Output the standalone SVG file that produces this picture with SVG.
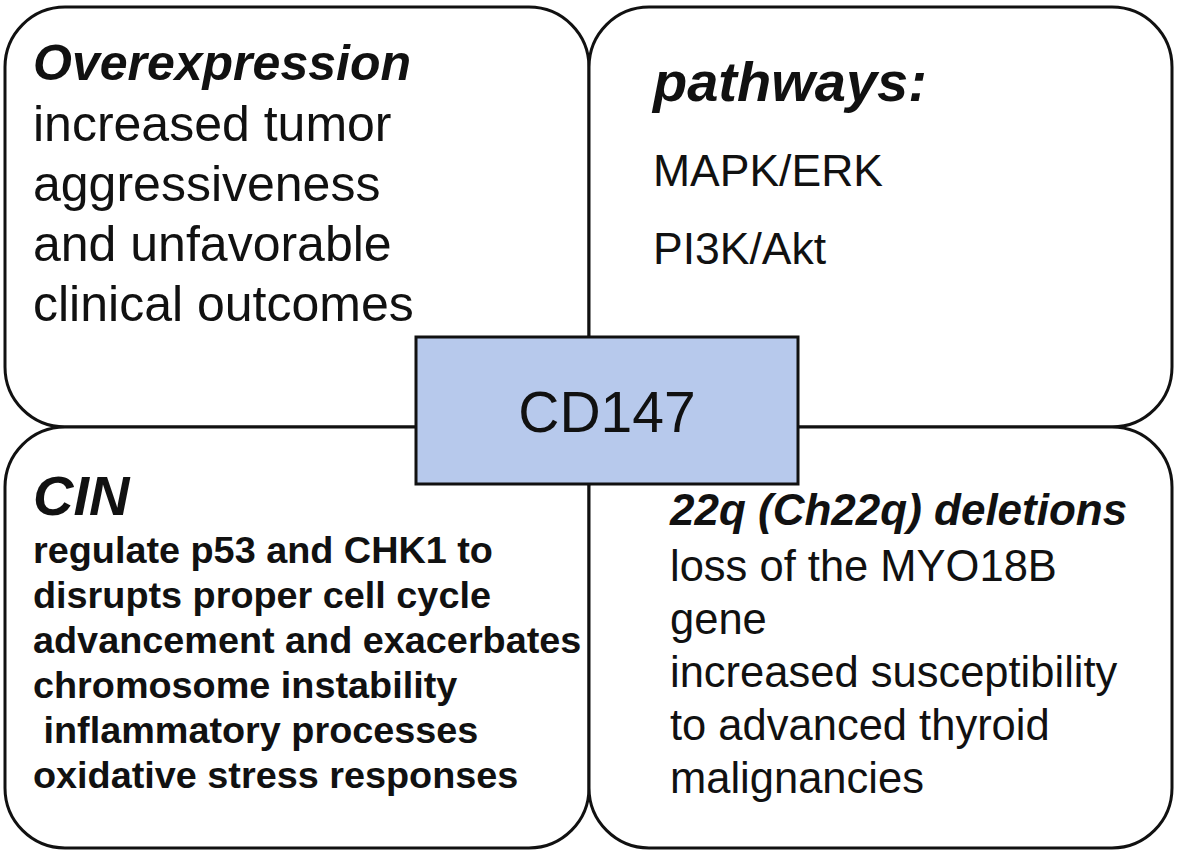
<svg xmlns="http://www.w3.org/2000/svg" width="1181" height="857" viewBox="0 0 1181 857">
<style>
.box{fill:#ffffff;stroke:#111111;stroke-width:3}
.core{fill:#b7c9ec;stroke:#111111;stroke-width:3}
text{font-family:"Liberation Sans",Arial,sans-serif;fill:#111111}
.h{font-weight:bold;font-style:italic}
.b{font-weight:bold}
</style>
<rect width="1181" height="857" fill="#ffffff"/>
<g id="connectors"></g>
<g id="node-overexpression">
<rect class="box" x="5" y="7" width="584" height="420" rx="60" ry="60"/>
<text class="h" x="33" y="80" font-size="50">Overexpression</text>
<text x="33" y="141" font-size="50">increased tumor</text>
<text x="33" y="201" font-size="50">aggressiveness</text>
<text x="33" y="261" font-size="50">and unfavorable</text>
<text x="33" y="321" font-size="50">clinical outcomes</text>
</g>
<g id="node-pathways">
<rect class="box" x="589" y="7" width="583" height="420" rx="60" ry="60"/>
<text class="h" x="653" y="101" font-size="56">pathways:</text>
<text x="653" y="186" font-size="44.5">MAPK/ERK</text>
<text x="653" y="264" font-size="44.5">PI3K/Akt</text>
</g>
<g id="node-cin">
<rect class="box" x="5" y="427" width="584" height="421" rx="60" ry="60"/>
<text class="h" x="33" y="515" font-size="56">CIN</text>
<text class="b" x="33" y="563" font-size="37.8">regulate p53 and CHK1 to</text>
<text class="b" x="33" y="608" font-size="37.8">disrupts proper cell cycle</text>
<text class="b" x="33" y="653" font-size="37.8">advancement and exacerbates</text>
<text class="b" x="33" y="698" font-size="37.8">chromosome instability</text>
<text class="b" x="33" y="743" font-size="37.8" xml:space="preserve"> inflammatory processes</text>
<text class="b" x="33" y="788" font-size="37.8">oxidative stress responses</text>
</g>
<g id="node-22q">
<rect class="box" x="589" y="427" width="583" height="421" rx="60" ry="60"/>
<text class="h" x="670" y="525" font-size="44">22q (Ch22q) deletions</text>
<text x="670" y="581" font-size="43.5">loss of the MYO18B</text>
<text x="670" y="634" font-size="43.5">gene</text>
<text x="670" y="687" font-size="43.5">increased susceptibility</text>
<text x="670" y="740" font-size="43.5">to advanced thyroid</text>
<text x="670" y="793" font-size="43.5">malignancies</text>
</g>
<g id="node-cd147">
<rect class="core" x="416" y="337" width="382" height="147"/>
<text x="607" y="432" font-size="57" text-anchor="middle">CD147</text>
</g>
</svg>
